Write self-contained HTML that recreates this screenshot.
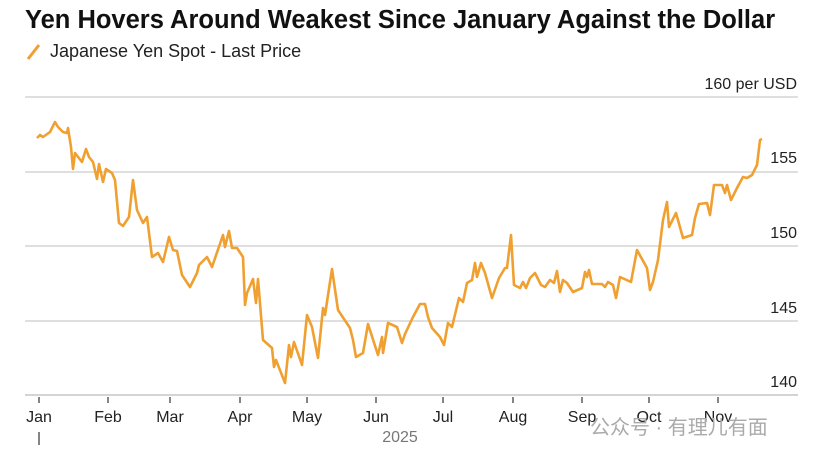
<!DOCTYPE html>
<html><head><meta charset="utf-8"><style>
body{margin:0;background:#fff;width:836px;height:459px;overflow:hidden;font-family:"Liberation Sans",Arial,sans-serif}
</style></head><body>
<svg width="836" height="459" xmlns="http://www.w3.org/2000/svg" font-family="Liberation Sans, Arial, sans-serif">
<text x="25" y="28" font-size="25.5" font-weight="bold" fill="#111">Yen Hovers Around Weakest Since January Against the Dollar</text>
<line x1="28" y1="59" x2="39" y2="45" stroke="#f0a030" stroke-width="3"/>
<text x="50" y="57" font-size="18" fill="#222">Japanese Yen Spot - Last Price</text>
<g stroke="#ccc" stroke-width="1.2">
<line x1="25" y1="97" x2="798" y2="97"/>
<line x1="25" y1="172" x2="798" y2="172"/>
<line x1="25" y1="246" x2="798" y2="246"/>
<line x1="25" y1="321" x2="798" y2="321"/>
<line x1="25" y1="395" x2="798" y2="395" stroke="#bbb"/>
</g>
<g font-size="16" fill="#222" text-anchor="end">
<text x="797" y="89">160 per USD</text>
<text x="797" y="163">155</text>
<text x="797" y="238">150</text>
<text x="797" y="313">145</text>
<text x="797" y="387">140</text>
</g>
<g stroke="#333" stroke-width="1.2">
<line x1="39" y1="397" x2="39" y2="403"/><line x1="108" y1="397" x2="108" y2="403"/>
<line x1="170" y1="397" x2="170" y2="403"/><line x1="240" y1="397" x2="240" y2="403"/>
<line x1="307" y1="397" x2="307" y2="403"/><line x1="376" y1="397" x2="376" y2="403"/>
<line x1="443" y1="397" x2="443" y2="403"/><line x1="513" y1="397" x2="513" y2="403"/>
<line x1="582" y1="397" x2="582" y2="403"/><line x1="649" y1="397" x2="649" y2="403"/>
<line x1="718" y1="397" x2="718" y2="403"/>
<line x1="39" y1="432" x2="39" y2="445"/>
</g>
<g font-size="16" fill="#222" text-anchor="middle">
<text x="39" y="422">Jan</text><text x="108" y="422">Feb</text><text x="170" y="422">Mar</text>
<text x="240" y="422">Apr</text><text x="307" y="422">May</text><text x="376" y="422">Jun</text>
<text x="443" y="422">Jul</text><text x="513" y="422">Aug</text><text x="582" y="422">Sep</text>
<text x="649" y="422">Oct</text><text x="718" y="422">Nov</text>
<text x="400" y="442" fill="#777">2025</text>
</g>
<text x="590" y="434" font-size="20" fill="#aaa" font-family="Liberation Sans, Noto Sans CJK SC, sans-serif">公众号 · 有理儿有面</text>
<polyline fill="none" stroke="#f0a030" stroke-width="2.6" stroke-linejoin="round" points="37,138 40,135 43,137 50,132 55,122 58,127 63,132 67,133 68,128 71,147 73,169 75,153 82,162 86,149 89,157 93,162 97,179 99,164 103,182 106,169 112,173 115,180 119,223 123,226 129,217 133,180 137,210 143,223 147,217 152,257 158,253 163,262 169,237 173,250 177,251 182,275 190,287 197,273 199,265 207,257 212,267 223,235 225,247 229,231 232,248 237,248 243,257 245,305 247,293 253,279 256,303 258,279 263,340 272,348 274,367 276,360 285,383 289,345 291,357 294,342 302,365 307,315 312,327 318,358 323,308 325,315 332,269 338,310 350,328 353,340 356,357 363,353 368,324 378,355 382,337 383,353 388,323 397,327 402,343 405,334 413,317 420,304 425,304 428,317 432,328 440,337 444,345 448,323 452,327 459,298 463,302 467,283 472,280 475,263 477,277 481,263 485,273 492,298 499,278 505,268 507,268 511,235 514,285 520,288 523,282 526,288 530,278 535,273 541,285 545,287 550,280 554,283 557,271 560,292 563,280 567,283 573,292 582,288 585,272 587,277 589,270 592,284 602,284 605,287 608,282 613,285 616,298 620,277 631,282 637,250 647,268 650,290 653,282 658,260 663,220 667,202 669,227 676,213 683,238 692,235 695,218 699,204 707,203 710,215 714,185 722,185 725,193 727,185 731,200 737,188 743,177 747,178 752,175 757,165 760,140 762,139"/>
</svg>
</body></html>
